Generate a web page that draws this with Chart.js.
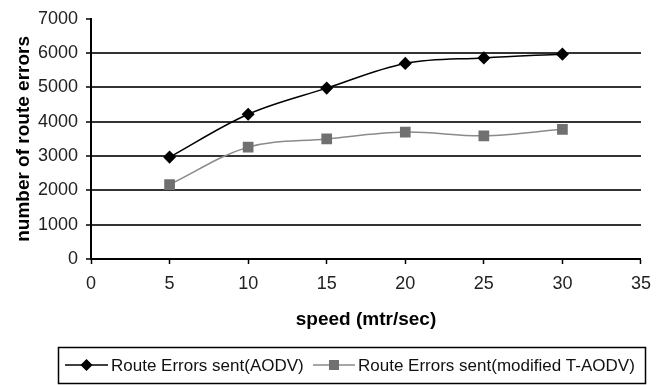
<!DOCTYPE html>
<html>
  <head>
    <meta charset="utf-8">
    <script src="https://cdn.jsdelivr.net/npm/chart.js@4.4.1/dist/chart.umd.min.js"></script>
    <style>
      body { margin: 0; background: #fff; }
      #wrap { width: 660px; height: 385px; }
    </style>
  </head>
  <body>
    <div id="wrap"><canvas id="chart" width="660" height="385"></canvas></div>

<script>
  // data
  var speeds = [5, 10, 15, 20, 25, 30];
  var aodv = [2970, 4220, 4980, 5700, 5860, 5970];
  var tAodv = [2170, 3260, 3500, 3700, 3590, 3780];
  var seriesNames = ['Route Errors sent(AODV)', 'Route Errors sent(modified T-AODV)'];

  var FONT = "'Liberation Sans', Arial, sans-serif";

  function toPoints(ys) {
      return speeds.map(function(x, i) { return { x: x, y: ys[i] }; });
  }

  // boxed legend under the chart, line + marker + text like the original
  var boxLegend = {
      id: 'boxLegend',
      afterDraw: function(chart) {
          var ctx = chart.ctx;
          var top = 347, h = 36, mid = top + h / 2;
          ctx.save();
          ctx.strokeStyle = '#000';
          ctx.lineWidth = 1.5;
          ctx.strokeRect(58.5, top + 0.5, 587, h);

          var entries = [
              { x0: 65, x1: 108, tx: 111 },
              { x0: 313, x1: 355, tx: 358 }
          ];
          ctx.font = '17px ' + FONT;
          ctx.textBaseline = 'middle';
          entries.forEach(function(e, i) {
              var ds = chart.data.datasets[i];
              ctx.strokeStyle = ds.borderColor;
              ctx.lineWidth = ds.borderWidth;
              ctx.beginPath();
              ctx.moveTo(e.x0, mid);
              ctx.lineTo(e.x1, mid);
              ctx.stroke();
              ctx.fillStyle = ds.pointBackgroundColor;
              ctx.strokeStyle = ds.pointBorderColor;
              Chart.helpers.drawPoint(ctx, {
                  pointStyle: ds.pointStyle,
                  radius: ds.pointRadius - 0.5,
                  borderWidth: 1
              }, (e.x0 + e.x1) / 2, mid);
              ctx.fillStyle = '#111';
              ctx.fillText(seriesNames[i], e.tx, mid + 1);
          });
          ctx.restore();
      }
  };

  new Chart(document.getElementById('chart'), {
      type: 'line',
      data: {
          datasets: [
              {
                  label: seriesNames[0],
                  data: toPoints(aodv),
                  borderColor: '#000',
                  borderWidth: 1.5,
                  pointStyle: 'rectRot',
                  pointRadius: 5.5,
                  pointBackgroundColor: '#000',
                  pointBorderColor: '#000',
                  tension: 0.35
              },
              {
                  label: seriesNames[1],
                  data: toPoints(tAodv),
                  borderColor: '#8a8a8a',
                  borderWidth: 1.5,
                  pointStyle: 'rect',
                  pointRadius: 6.5,
                  pointBackgroundColor: '#707070',
                  pointBorderColor: '#707070',
                  tension: 0.35
              }
          ]
      },
      options: {
          responsive: false,
          animation: false,
          layout: { padding: { left: 0, right: 19, top: 18, bottom: 51 } },
          plugins: {
              legend: { display: false },
              tooltip: { enabled: false }
          },
          scales: {
              x: {
                  type: 'linear',
                  min: 0,
                  max: 35,
                  ticks: { stepSize: 5, color: '#222', padding: 9, font: { family: FONT, size: 18 } },
                  grid: { drawOnChartArea: false, tickLength: 5, tickColor: '#000', tickWidth: 1.5 },
                  border: { color: '#000', width: 2 },
                  title: {
                      display: true,
                      text: 'speed (mtr/sec)',
                      color: '#000',
                      padding: { top: 0, bottom: 3 },
                      font: { family: FONT, size: 19, weight: 'bold' }
                  },
                  afterFit: function(scale) { scale.height = 75; }
              },
              y: {
                  min: 0,
                  max: 7000,
                  ticks: {
                      stepSize: 1000,
                      color: '#222',
                      padding: 8,
                      format: { useGrouping: false },
                      font: { family: FONT, size: 18 }
                  },
                  grid: {
                      color: function(c) { return c.tick && c.tick.value === 7000 ? 'rgba(0,0,0,0)' : '#333'; },
                      lineWidth: 2,
                      tickLength: 5,
                      tickColor: '#000',
                      tickWidth: 1.5
                  },
                  border: { color: '#000', width: 2 },
                  title: {
                      display: true,
                      text: 'number of route errors',
                      color: '#000',
                      padding: { top: 12, bottom: 0 },
                      font: { family: FONT, size: 19, weight: 'bold' }
                  },
                  afterFit: function(scale) { scale.width = 91; }
              }
          }
      },
      plugins: [boxLegend]
  });
</script>
  </body>
</html>
